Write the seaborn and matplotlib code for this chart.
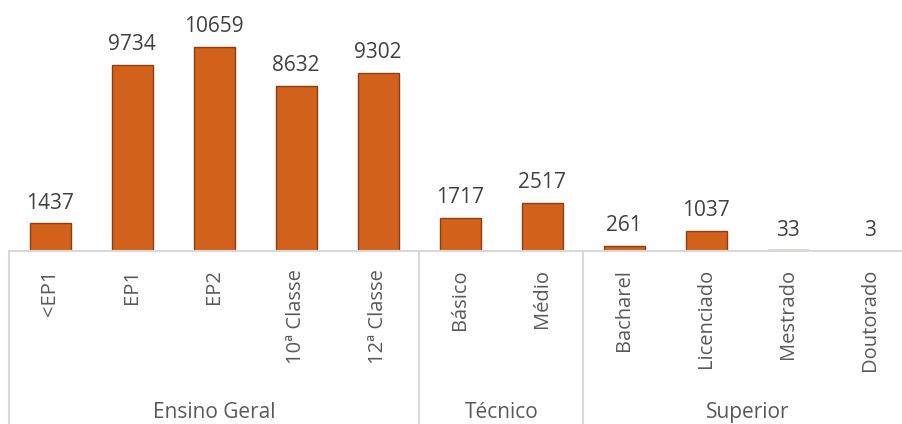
import pandas as pd
import seaborn as sns
import matplotlib.pyplot as plt
import matplotlib.transforms as mtransforms

# data
categories = ['<EP1', 'EP1', 'EP2', '10ª Classe', '12ª Classe',
              'Básico', 'Médio',
              'Bacharel', 'Licenciado', 'Mestrado', 'Doutorado']
values = [1437, 9734, 10659, 8632, 9302, 1717, 2517, 261, 1037, 33, 3]
groups = ['Ensino Geral', 'Técnico', 'Superior']
group_sizes = [5, 2, 4]

df = pd.DataFrame({'categoria': categories, 'valor': values})

sns.set_style('white')
plt.rcParams['font.family'] = ['Open Sans', 'DejaVu Sans']

fig = plt.figure(figsize=(9.02, 4.24), dpi=100)
ax = fig.add_axes([9 / 902, 173 / 424, 902.5 / 902, 251 / 424])

sns.barplot(data=df, x='categoria', y='valor', color='#D2621B',
            width=0.5, edgecolor='#8E3E10', linewidth=1.0, saturation=1, ax=ax)

ax.bar_label(ax.containers[0], labels=[str(v) for v in values],
             padding=7, fontsize=15, color='#404040')

ax.set_ylim(0, 13115)
ax.set_xlim(-0.5, len(categories) - 0.5)
ax.set_xlabel('')
ax.set_ylabel('')
ax.set_yticks([])
for s in ax.spines.values():
    s.set_visible(False)
ax.tick_params(axis='x', length=0, pad=13, labelsize=14.5, labelcolor='#595959')
plt.setp(ax.get_xticklabels(), rotation=90)

# category axis lines and group separators
trans = mtransforms.blended_transform_factory(ax.transData, ax.transAxes)
line_kw = dict(color='#D9D9D9', linewidth=1.5, clip_on=False, transform=trans)
ax.plot([-0.5, len(categories) - 0.5], [0, 0], **line_kw)
start = 0
for name, size in zip(groups, group_sizes):
    ax.plot([start - 0.5, start - 0.5], [0, -0.7], **line_kw)
    ax.text(start + (size - 1) / 2, -0.645, name, transform=trans,
            ha='center', va='center', fontsize=15, color='#595959')
    start += size

fig.savefig('out.png', dpi=100)
